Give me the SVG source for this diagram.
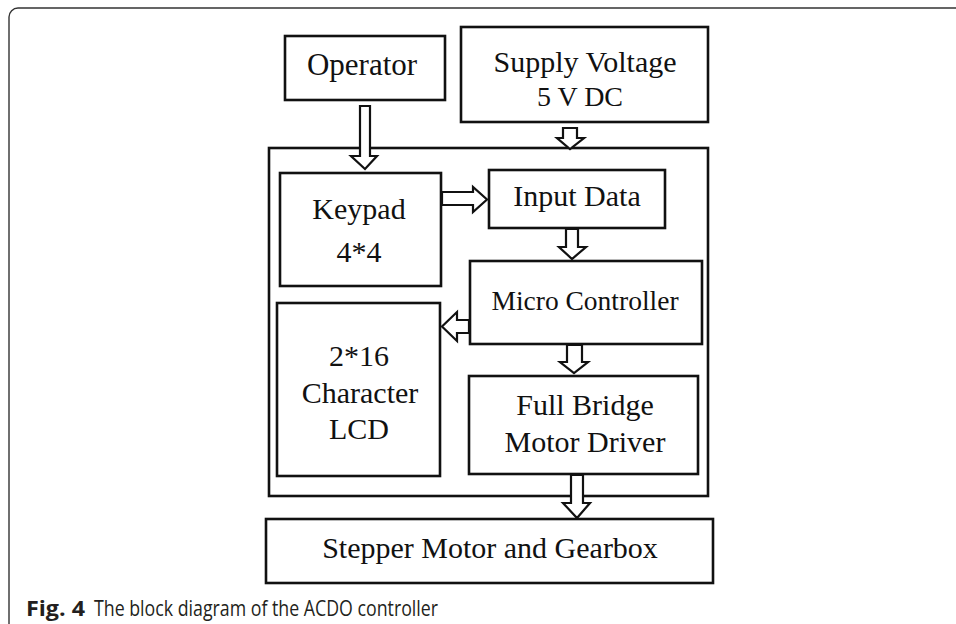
<svg xmlns="http://www.w3.org/2000/svg" width="956" height="624" viewBox="0 0 956 624">
<style>
.box{fill:#fff;stroke:#111;stroke-width:2.6}
.arr{fill:#fff;stroke:#111;stroke-width:2.2;stroke-linejoin:miter}
.t{font-family:"Liberation Serif","Times New Roman",serif;font-size:30px;fill:#111;text-anchor:middle}
.cap{font-family:"Open Sans","Noto Sans",sans-serif;font-size:21px;fill:#231f20}
</style>
<rect width="956" height="624" fill="#fff"/>
<path d="M9 624 V17 A9 9 0 0 1 18 8 H956" fill="none" stroke="#333" stroke-width="1.4"/>
<g id="container"><rect class="box" x="269" y="148" width="439" height="348"/></g>
<g id="operator"><rect class="box" x="285" y="36" width="160" height="64"/><text class="t" x="362" y="75" style="font-size:31px">Operator</text></g>
<g id="supply"><rect class="box" x="461" y="27" width="247" height="95"/><text class="t" x="585" y="72">Supply Voltage</text><text class="t" x="580" y="106" style="font-size:28px">5 V DC</text></g>
<g id="keypad"><rect class="box" x="280" y="173" width="161" height="113"/><text class="t" x="359" y="219">Keypad</text><text class="t" x="359" y="262">4*4</text></g>
<g id="input"><rect class="box" x="489" y="170" width="176" height="58"/><text class="t" x="577" y="206">Input Data</text></g>
<g id="micro"><rect class="box" x="470" y="261" width="232" height="83"/><text class="t" x="585" y="310" style="font-size:27.5px">Micro Controller</text></g>
<g id="lcd"><rect class="box" x="277" y="303" width="163" height="173"/><text class="t" x="359" y="366">2*16</text><text class="t" x="360" y="403">Character</text><text class="t" x="359" y="439">LCD</text></g>
<g id="driver"><rect class="box" x="469" y="376" width="229" height="98"/><text class="t" x="585" y="415">Full Bridge</text><text class="t" x="585" y="452">Motor Driver</text></g>
<g id="stepper"><rect class="box" x="266" y="519" width="447" height="64"/><text class="t" x="490" y="558">Stepper Motor and Gearbox</text></g>
<g id="connectors">
<polygon class="arr" points="360,106 370,106 370,156 377,156 365,169 351,156 360,156"/>
<polygon class="arr" points="563,128 577,128 577,138 584,138 570,149 557,138 563,138"/>
<polygon class="arr" points="442,192 473,192 473,187 487,199.5 473,212 473,205 442,205"/>
<polygon class="arr" points="566,229 578,229 578,247 586,247 572,259 559,247 566,247"/>
<polygon class="arr" points="469,320 457,320 457,312 442,326.5 457,341 457,333 469,333"/>
<polygon class="arr" points="567,345 582,345 582,362 588,362 574,373 560,362 567,362"/>
<polygon class="arr" points="571,475 583,475 583,503 590,503 577,518 563,503 571,503"/>
</g>
<g id="caption">
<text class="cap" x="26" y="616" font-weight="bold" textLength="59" lengthAdjust="spacingAndGlyphs">Fig. 4</text>
<text class="cap" x="94" y="616" textLength="344" lengthAdjust="spacingAndGlyphs">The block diagram of the ACDO controller</text>
</g>
</svg>
